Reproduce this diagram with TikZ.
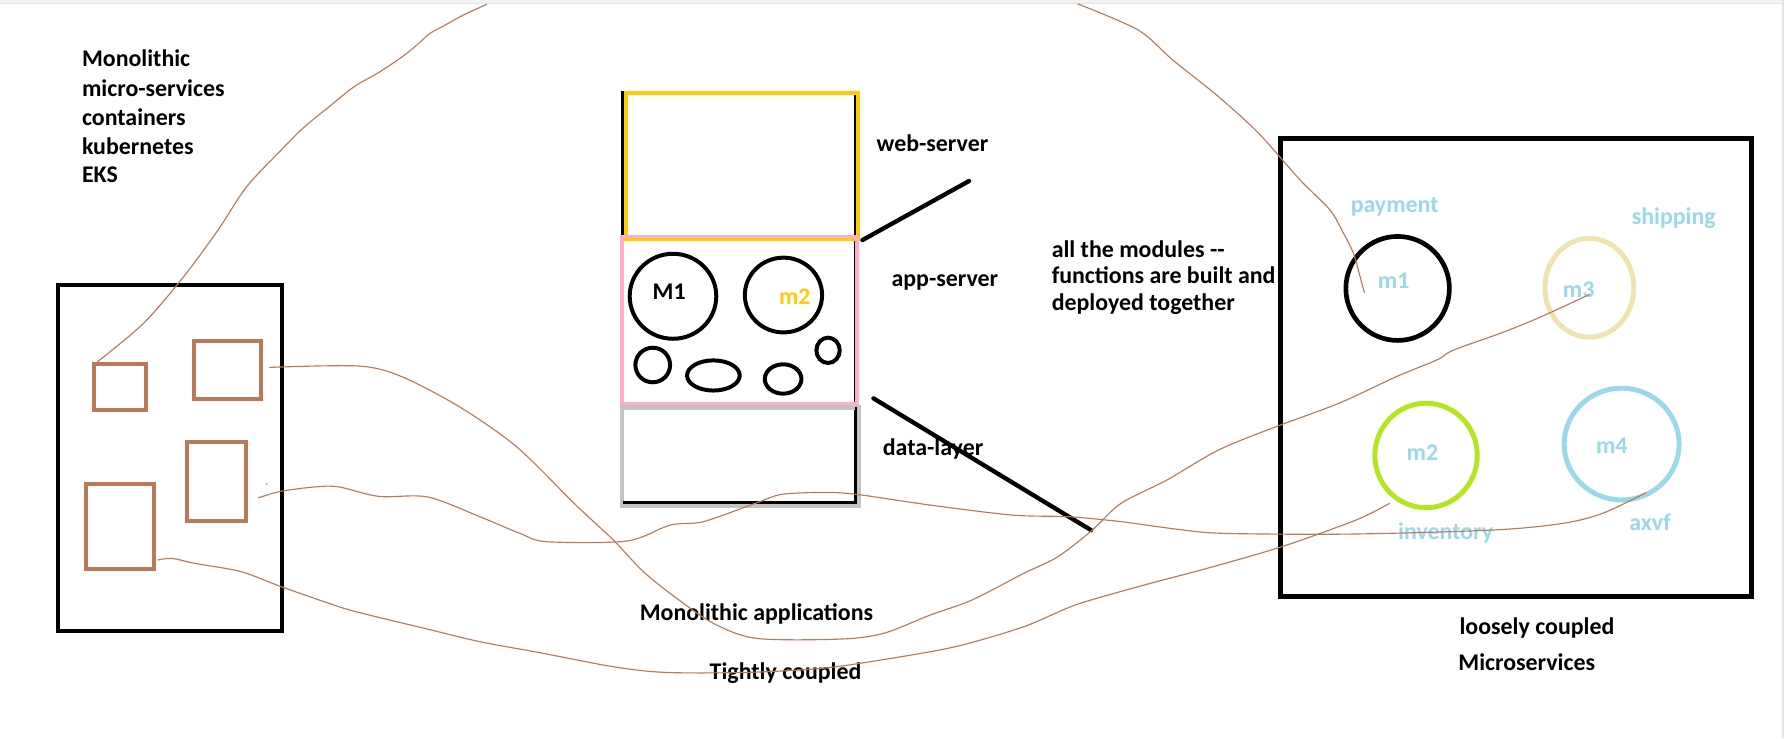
\documentclass[tikz,border=0pt]{standalone}
\usepackage{fontspec}
\setmainfont{Carlito}
\usetikzlibrary{shapes.geometric}
\definecolor{brownc}{HTML}{B97A57}
\definecolor{goldc}{HTML}{FFC90E}
\definecolor{pinkc}{HTML}{FFAEC9}
\definecolor{grayc}{HTML}{C3C3C3}
\definecolor{limec}{HTML}{B5E61D}
\definecolor{skyc}{HTML}{99D9EA}
\definecolor{beigec}{HTML}{EFE4B0}
\definecolor{edgec}{HTML}{E4E4E4}
\definecolor{topc}{HTML}{F3F3F3}
\begin{document}
\begin{tikzpicture}[x=1pt,y=-1pt,
  txt/.style={font=\fontsize{21}{25}\selectfont\bfseries, anchor=base west, inner sep=0pt, outer sep=0pt},
  lbl/.style={txt, text=skyc},
  frame/.style={draw=black, rectangle, line width=4pt, inner sep=0pt, outer sep=0pt},
  brect/.style={draw=brownc, rectangle, line width=3.6pt, inner sep=0pt, outer sep=0pt},
  layer/.style={rectangle, inner sep=0pt, outer sep=0pt},
  ring/.style={draw, ellipse, line width=3.5pt, inner sep=0pt, outer sep=0pt},
  wire/.style={draw=brownc, line width=1pt, line cap=round, line join=round},
  bar/.style={draw=black, line width=3.8pt, line cap=round},
]
\useasboundingbox (0,0) rectangle (1568,649);
\fill[white] (0,0) rectangle (1568,649);
% screenshot edges
\fill[topc] (0,0) rectangle (1568,2.6);
\draw[edgec, line width=0.9pt] (0,3) -- (1566,3);
\fill[edgec] (1566,0) rectangle (1568,649);

% left text block
\node[txt] (t1) at (72.1,58.6) {Monolithic};
\node[txt] (t2) at (72.1,84.4) {micro-services};
\node[txt] (t3) at (72.1,109.9) {containers};
\node[txt] (t4) at (72.1,135.4) {kubernetes};
\node[txt] (t5) at (72.1,160.6) {EKS};

% left box with brown rectangles
\node[frame, line width=3.6pt, minimum width=196.9pt, minimum height=304.1pt] (lbox) at (149.75,402.85) {};
\node[brect, minimum width=45.7pt, minimum height=40.9pt] (r1) at (105.35,340.25) {};
\node[brect, minimum width=58.4pt, minimum height=50.7pt] (r2) at (200,325.35) {};
\node[brect, minimum width=51.9pt, minimum height=69.3pt] (r3) at (190.25,423.25) {};
\node[brect, minimum width=59.7pt, minimum height=74.3pt] (r4) at (105.35,462.65) {};

% middle stack
\node[layer, draw=black, line width=2.2pt, minimum width=204.2pt, minimum height=360.8pt] (stack) at (649.4,261.2) {};
\node[layer, draw=goldc, line width=3.4pt, minimum width=203.8pt, minimum height=128.6pt] (web) at (651.9,145.8) {};
\node[layer, draw=pinkc, line width=3.2pt, minimum width=206.6pt, minimum height=146.8pt] (app) at (650.1,281.1) {};
\node[layer, draw=grayc, line width=3.8pt, minimum width=208pt, minimum height=86.1pt] (data) at (650.8,401.25) {};
\draw[black, line width=2.2pt] (752.2,358) -- (752.2,441.6) -- (548,441.6);

\node[ring, minimum width=76.1pt, minimum height=74.7pt] (M1c) at (591.5,260.4) {};
\node[ring, minimum width=67.9pt, minimum height=65.7pt] (m2c) at (688.6,259.3) {};
\node[ring, minimum width=30.5pt, minimum height=30.4pt] (s1) at (573.7,320.8) {};
\node[ring, minimum width=46.3pt, minimum height=26.5pt] (s2) at (627,330) {};
\node[ring, minimum width=32.2pt, minimum height=25.8pt] (s3) at (688.3,333.1) {};
\node[ring, minimum width=20.5pt, minimum height=22.3pt] (s4) at (727.8,307.9) {};
\node[txt] (M1t) at (573.7,263.1) {M1};
\node[txt, text=goldc] (m2t) at (684.7,267.5) {m2};

% layer labels and pointers
\node[txt] (webt) at (770.5,133.3) {web-server};
\node[txt] (appt) at (783.6,251.4) {app-server};
\node[txt] (datat) at (776,399.9) {data-layer};
\coordinate (wa) at (758,211);
\coordinate (wb) at (851.7,159.1);
\coordinate (da) at (767.7,350.1);
\coordinate (db) at (959,466);
\draw[bar] (wa) -- (wb);
\draw[bar] (da) -- (db);

% paragraph
\begin{scope}
\clip (900,190) rectangle (1123,277);
\node[txt] (p1) at (924.4,226.2) {all the modules -{}-};
\node[txt] (p2) at (924.4,249.6) {functions are built and};
\node[txt] (p3) at (924.4,272.5) {deployed together};
\end{scope}

% right box
\node[frame, line width=4.3pt, minimum width=413.9pt, minimum height=402.5pt] (rbox) at (1332.75,322.85) {};
\node[ring, draw=black, line width=4.1pt, minimum width=91pt, minimum height=91.4pt] (rm1) at (1228.4,253.5) {};
\node[ring, draw=beigec, line width=4.3pt, minimum width=78.2pt, minimum height=86.8pt] (rm3) at (1396.9,252.9) {};
\node[ring, draw=limec, line width=4.3pt, minimum width=90pt, minimum height=91.8pt] (rm2) at (1253.4,400.3) {};
\node[ring, draw=skyc, line width=4.3pt, minimum width=101pt, minimum height=98.2pt] (rm4) at (1425.3,390.3) {};
\node[lbl] (payt) at (1187.2,186.7) {payment};
\node[lbl] (shipt) at (1434.2,196.9) {shipping};
\node[lbl] (rm1t) at (1211,253.4) {m1};
\node[lbl] (rm3t) at (1373.6,261.6) {m3};
\node[lbl] (rm2t) at (1236.4,405) {m2};
\node[lbl] (rm4t) at (1402.8,399) {m4};
\node[lbl] (invt) at (1228.9,474.6) {inventory};
\node[lbl] (axt) at (1432,465.9) {axvf};

% bottom captions
\node[txt] (monot) at (562.3,545) {Monolithic applications};
\node[txt] (tightt) at (623.8,597.1) {Tightly coupled};
\node[txt] (looset) at (1282.8,558.1) {loosely coupled};
\node[txt] (microt) at (1281.8,589.5) {Microservices};

% brown hand-drawn wires
\coordinate (w1s) at (427.8,3.8);
\coordinate (w1e) at (85.7,317.9);
\draw[wire] plot[smooth, tension=0.5] coordinates {(w1s) (407.3,13.2) (389.7,22.9) (378,29.3) (366.3,39.6) (354.5,49.2) (334,63) (313.5,74.7) (301.8,83.5) (290,93.2) (267,112) (247.1,131.9) (216.8,164.1) (191.6,202.2) (161.4,243.2) (126.1,284.2) (w1e)};

\coordinate (w2s) at (947.5,3.5);
\coordinate (w2e) at (1199.2,257.3);
\draw[wire] plot[smooth, tension=0.5] coordinates {(w2s) (1000.4,26.4) (1030.7,52.7) (1071,85) (1106.3,117.2) (1142.7,158.2) (1169,184.6) (1180.8,205) (1189.6,222.7) (1195.4,243.2) (w2e)};

\coordinate (w3s) at (237,322.9);
\coordinate (w3e) at (1397,258.7);
\draw[wire] plot[smooth, tension=0.5] coordinates {(w3s) (315.4,321.7) (353,331) (403.7,357.5) (454,392.6) (504.6,442.4) (539.1,474.7) (565.5,502.5) (594.8,525.9) (627,547.9) (665.1,561.1) (738.4,561.7) (776.4,556.7) (817.5,540.6) (854.2,527.4) (899.6,504) (929.8,489.3) (960.1,465.8) (985.3,442.4) (1025.6,421.9) (1071,395.5) (1121.5,375) (1176.9,354.4) (1227.4,331) (1262.8,316.4) (1277.5,307.7) (1318.5,293) (1347.8,281.3) (1377.1,268.1) (w3e)};

\coordinate (w4s) at (227,437.6);
\coordinate (w4e) at (1446.7,433);
\draw[wire] plot[smooth, tension=0.5] coordinates {(w4s) (247,431.8) (277.5,427.9) (297.7,427.9) (333,436.3) (376,436.8) (421.9,454.2) (457,468.8) (480.5,476.1) (550.9,475.5) (589,461.5) (618.2,458.5) (665.1,441.9) (687.1,434.5) (723.7,432.8) (753,434.5) (817.5,443.9) (889.5,452.7) (940,454.2) (985.3,458.5) (1035.7,465.3) (1076,468.8) (1187,469.4) (1313,465.8) (1373.6,460) (1409,451) (w4e)};
\fill[brownc] (234.5,425.4) circle (0.8pt);

\coordinate (w5s) at (138.7,492.2);
\coordinate (w5e) at (1221.3,442.4);
\draw[wire] plot[smooth, tension=0.5] coordinates {(w5s) (151.3,490.8) (171.5,495.2) (211.8,502.4) (247,515.6) (287.5,529.7) (312.7,537.6) (373.2,552.3) (421.9,564) (474.7,573.7) (539.1,586) (585,591) (655.6,591) (721.3,587.5) (773.5,580.2) (839.1,568.5) (899.6,550.9) (945,531.8) (1000.4,515.6) (1061,499.5) (1126.5,480.5) (1192,457) (w5e)};
\end{tikzpicture}
\end{document}
